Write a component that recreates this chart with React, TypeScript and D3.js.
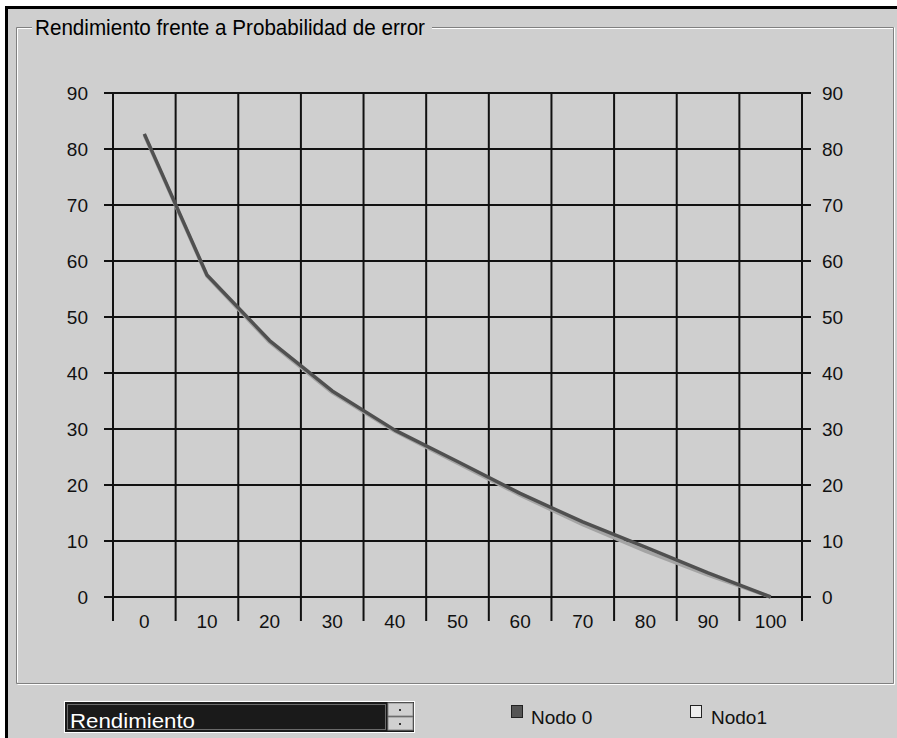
import React from "react"
import * as d3 from "d3"

// probabilidad de error (%) - categorias del eje x
const categories = ["0", "10", "20", "30", "40", "50", "60", "70", "80", "90", "100"]
// rendimiento por nodo
const nodo0 = [82.7, 57.5, 45.8, 36.8, 29.8, 24.2, 18.5, 13.4, 8.9, 4.3, 0]
const nodo1 = [82.5, 57.3, 45.5, 36.5, 29.6, 23.9, 18.2, 12.9, 8.2, 3.9, 0]
const yTicks = [0, 10, 20, 30, 40, 50, 60, 70, 80, 90]
const legendLabels = ["Nodo 0", "Nodo1"]
const title = "Rendimiento frente a Probabilidad de error"
const comboText = "Rendimiento"

const bg = "#cfcfcf"
const font = "'Liberation Sans', Arial, sans-serif"

export default function App() {
    const width = 897
    const height = 738

    const x = d3.scaleBand()
        .domain(categories).range([113, 802])
    const y = d3.scaleLinear()
        .domain([0, 90]).range([597, 93])

    const bounds = categories.map(c => x(c))
    bounds.push(x.range()[1])

    const line = d3.line()
        .x((d, i) => x(categories[i]) + x.bandwidth() / 2)
        .y(d => y(d))

    const y0 = y(0)

    return (
        <svg width={width} height={height} style={{position: "absolute", left: 0, top: 0}}
            fontFamily={font}>
            <rect width={width} height={height} fill="#fff" />
            <rect x={5} y={6} width={width - 5} height={height - 6} fill="#000" />
            <rect x={8} y={9} width={width - 8} height={height - 9} fill={bg} />

            {/* marco del grupo */}
            <g fill="none">
                <path d="M32,27.5 H16.5 V683.5 H893.5 V27.5 H432" stroke="#808080" />
                <path d="M32,28.5 H17.5 V682.5 M17.5,684.5 H894.5 V27.5 M893,28.5 H432" stroke="#fff" />
            </g>
            <text x={35} y={35} fontSize={22} textLength={390} lengthAdjust="spacingAndGlyphs" fill="#000">
                {title}
            </text>

            {/* rejilla */}
            <g stroke="#111" strokeWidth={2}>
                {yTicks.map(t => (
                    <line key={"h" + t} x1={104} x2={811} y1={y(t)} y2={y(t)} />
                ))}
                {bounds.map((b, i) => (
                    <line key={"v" + i} x1={b} x2={b} y1={y(90)} y2={y0 + 24} />
                ))}
            </g>

            <g fontSize={19} fill="#111">
                {yTicks.map(t => (
                    <text key={"l" + t} x={88} y={y(t)} dy="0.35em" textAnchor="end">{t}</text>
                ))}
                {yTicks.map(t => (
                    <text key={"r" + t} x={822} y={y(t)} dy="0.35em">{t}</text>
                ))}
                {categories.map(c => (
                    <text key={"x" + c} x={x(c) + x.bandwidth() / 2} y={628} textAnchor="middle">{c}</text>
                ))}
            </g>

            <path d={line(nodo1)} fill="none" stroke="#a4a4a4" strokeWidth={3.5} strokeLinejoin="round" />
            <path d={line(nodo0)} fill="none" stroke="#505050" strokeWidth={3.5} strokeLinejoin="round" />

            {/* combo */}
            <rect x={64} y={701} width={351} height={32} fill="#fff" />
            <rect x={65} y={702} width={349} height={30} fill="#1a1a1a" />
            <rect x={67.5} y={704.5} width={318} height={25} fill="none" stroke="#bbb" strokeDasharray="1,1" />
            <rect x={388} y={703} width={25} height={13} fill="#d0d0d0" stroke="#888" />
            <rect x={388} y={717} width={25} height={13} fill="#d0d0d0" stroke="#888" />
            <rect x={399} y={709} width={2} height={2} fill="#333" />
            <rect x={399} y={723} width={2} height={2} fill="#333" />
            <text x={70} y={728} fontSize={20} textLength={125} lengthAdjust="spacingAndGlyphs" fill="#fff">
                {comboText}
            </text>

            {/* leyenda */}
            <g fontSize={19} fill="#111">
                <rect x={511.5} y={705.5} width={11} height={12} fill="#555" stroke="#222" />
                <text x={531} y={724}>{legendLabels[0]}</text>
                <rect x={690.5} y={705.5} width={11} height={12} fill="#eee" stroke="#222" />
                <text x={711} y={724}>{legendLabels[1]}</text>
            </g>
        </svg>
    )
}
